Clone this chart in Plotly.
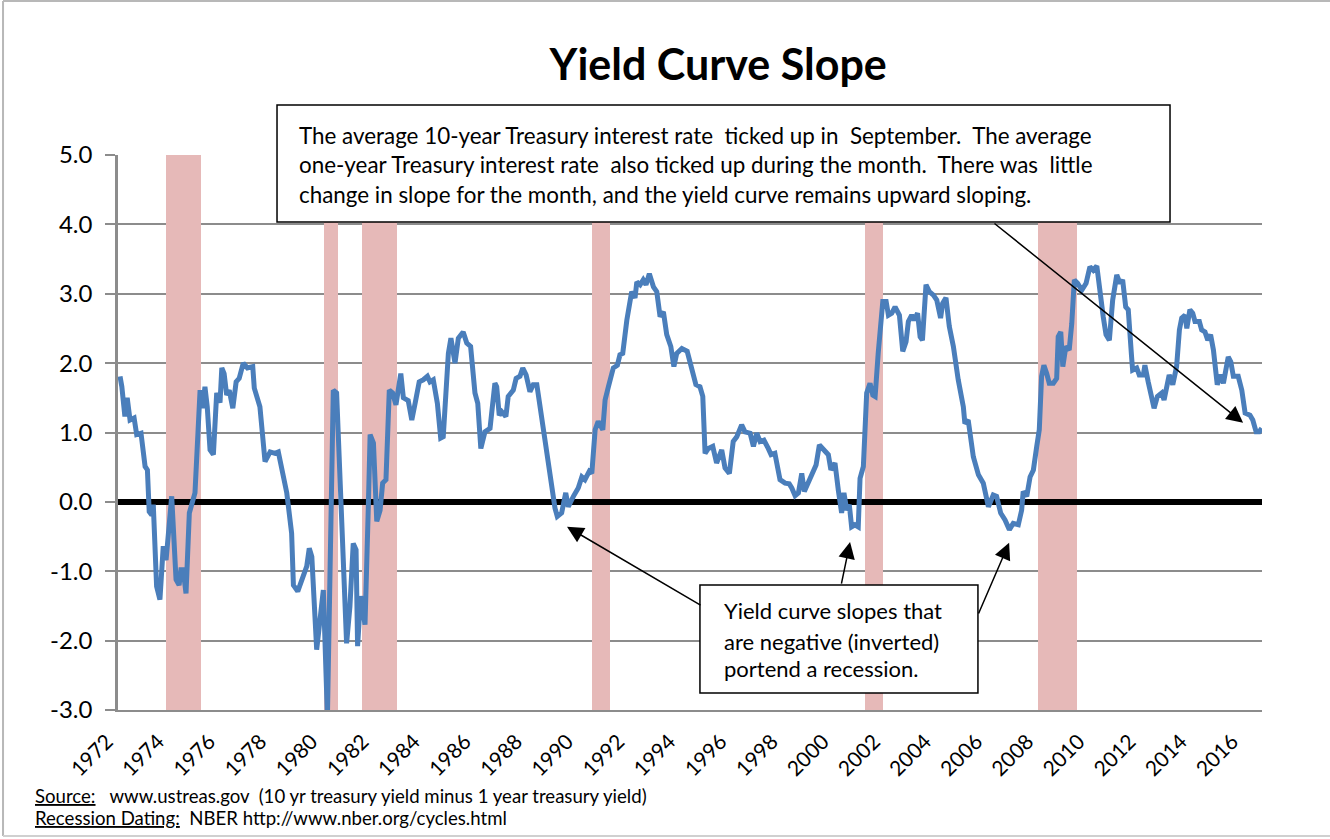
import plotly.graph_objects as go

# ---------------- data ----------------
slope_year = [
    1972.04, 1972.11, 1972.23, 1972.32, 1972.43, 1972.59, 1972.69, 1972.86, 1973.02, 1973.11,
    1973.18, 1973.28, 1973.34, 1973.47, 1973.60, 1973.73, 1973.84, 1973.93, 1974.06, 1974.23,
    1974.35, 1974.42, 1974.51, 1974.62, 1974.75, 1974.97, 1975.10, 1975.17, 1975.27, 1975.36,
    1975.45, 1975.56, 1975.69, 1975.82, 1975.95, 1976.02, 1976.11, 1976.21, 1976.31, 1976.45,
    1976.58, 1976.70, 1976.86, 1977.02, 1977.23, 1977.29, 1977.51, 1977.71, 1977.91, 1978.10,
    1978.23, 1978.36, 1978.56, 1978.75, 1978.82, 1978.99, 1979.15, 1979.23, 1979.34, 1979.44,
    1979.54, 1979.73, 1979.86, 1979.99, 1980.15, 1980.38, 1980.51, 1980.64, 1980.77, 1980.90,
    1981.03, 1981.16, 1981.27, 1981.33, 1981.45, 1981.62, 1981.75, 1981.82, 1981.95, 1982.08,
    1982.21, 1982.31, 1982.44, 1982.57, 1982.70, 1982.83, 1983.02, 1983.12, 1983.31, 1983.45,
    1983.58, 1983.74, 1983.90, 1984.06, 1984.16, 1984.29, 1984.45, 1984.58, 1984.68, 1984.88,
    1984.98, 1985.14, 1985.27, 1985.46, 1985.60, 1985.75, 1985.92, 1986.03, 1986.15, 1986.31,
    1986.51, 1986.70, 1986.77, 1986.87, 1986.97, 1987.13, 1987.22, 1987.42, 1987.53, 1987.68,
    1987.79, 1987.92, 1988.07, 1988.20, 1988.34, 1988.46, 1988.73, 1988.92, 1989.05, 1989.14,
    1989.31, 1989.47, 1989.57, 1989.77, 1989.96, 1990.10, 1990.22, 1990.39, 1990.49, 1990.62,
    1990.74, 1990.92, 1991.01, 1991.14, 1991.33, 1991.49, 1991.59, 1991.70, 1991.86, 1992.05,
    1992.18, 1992.25, 1992.38, 1992.50, 1992.61, 1992.74, 1992.90, 1993.03, 1993.16, 1993.29,
    1993.42, 1993.58, 1993.70, 1993.81, 1994.01, 1994.22, 1994.46, 1994.56, 1994.72, 1994.83,
    1994.92, 1995.05, 1995.22, 1995.37, 1995.57, 1995.70, 1995.87, 1996.02, 1996.16, 1996.35,
    1996.48, 1996.68, 1996.81, 1996.94, 1997.07, 1997.22, 1997.39, 1997.50, 1997.65, 1997.85,
    1998.05, 1998.21, 1998.31, 1998.44, 1998.57, 1998.70, 1998.80, 1998.96, 1999.13, 1999.26,
    1999.39, 1999.54, 1999.74, 1999.84, 2000.00, 2000.13, 2000.26, 2000.35, 2000.46, 2000.56,
    2000.65, 2000.78, 2000.91, 2000.98, 2001.11, 2001.24, 2001.37, 2001.48, 2001.57, 2001.69,
    2001.87, 2002.00, 2002.09, 2002.22, 2002.35, 2002.52, 2002.65, 2002.78, 2002.87, 2003.00,
    2003.10, 2003.23, 2003.33, 2003.42, 2003.56, 2003.69, 2003.85, 2003.98, 2004.13, 2004.21,
    2004.34, 2004.47, 2004.63, 2004.82, 2005.02, 2005.08, 2005.21, 2005.41, 2005.61, 2005.80,
    2006.00, 2006.19, 2006.32, 2006.48, 2006.65, 2006.82, 2006.97, 2007.17, 2007.30, 2007.36,
    2007.50, 2007.63, 2007.76, 2007.89, 2007.99, 2008.08, 2008.17, 2008.28, 2008.38, 2008.54,
    2008.67, 2008.73, 2008.83, 2008.91, 2009.03, 2009.16, 2009.26, 2009.36, 2009.49, 2009.65,
    2009.82, 2009.97, 2010.10, 2010.24, 2010.36, 2010.49, 2010.60, 2010.73, 2010.86, 2011.02,
    2011.15, 2011.25, 2011.37, 2011.47, 2011.60, 2011.64, 2011.80, 2011.90, 2012.06, 2012.12,
    2012.25, 2012.39, 2012.48, 2012.61, 2012.78, 2012.87, 2012.97, 2013.07, 2013.21, 2013.36,
    2013.47, 2013.56, 2013.69, 2013.76, 2013.88, 2013.99, 2014.08, 2014.25, 2014.34, 2014.47,
    2014.58, 2014.69, 2014.80, 2014.95, 2015.08, 2015.19, 2015.38, 2015.48, 2015.58, 2015.77,
    2015.91, 2016.04, 2016.23, 2016.34, 2016.47, 2016.59, 2016.69,
]
slope_value = [
    1.81, 1.66, 1.23, 1.50, 1.18, 1.21, 0.97, 0.99, 0.51, 0.46,
    -0.14, -0.19, -0.04, -1.22, -1.41, -0.64, -0.84, -0.50, 0.08, -1.12,
    -1.20, -0.98, -0.98, -1.32, -0.16, 0.13, 1.40, 1.61, 1.35, 1.66,
    1.37, 0.75, 0.68, 1.57, 1.43, 1.93, 1.85, 1.54, 1.61, 1.35,
    1.73, 1.78, 2.00, 1.93, 1.95, 1.64, 1.37, 0.58, 0.72, 0.70,
    0.72, 0.46, 0.13, -0.45, -1.20, -1.29, -1.12, -1.03, -0.93, -0.67,
    -0.79, -2.13, -1.65, -1.27, -3.10, 1.61, 1.57, 0.41, -0.79, -2.04,
    -1.51, -0.60, -0.69, -2.08, -1.36, -1.77, -0.07, 0.97, 0.85, -0.28,
    -0.12, 0.27, 0.32, 1.61, 1.57, 1.40, 1.85, 1.50, 1.46, 1.18,
    1.42, 1.73, 1.76, 1.81, 1.73, 1.76, 1.42, 0.92, 0.94, 2.14,
    2.36, 2.00, 2.36, 2.45, 2.29, 2.24, 1.57, 1.42, 0.77, 1.01,
    1.06, 1.71, 1.66, 1.25, 1.30, 1.23, 1.52, 1.61, 1.78, 1.81,
    1.93, 1.83, 1.59, 1.69, 1.69, 1.37, 0.70, 0.13, -0.09, -0.21,
    -0.16, 0.13, -0.07, 0.08, 0.20, 0.36, 0.32, 0.44, 0.41, 1.04,
    1.16, 1.04, 1.47, 1.66, 1.93, 1.97, 2.12, 2.14, 2.62, 3.03,
    2.94, 3.17, 3.13, 3.20, 3.13, 3.29, 3.10, 3.03, 2.67, 2.74,
    2.41, 2.24, 1.95, 2.14, 2.21, 2.17, 1.83, 1.69, 1.66, 1.52,
    0.70, 0.77, 0.80, 0.56, 0.75, 0.49, 0.41, 0.87, 0.94, 1.11,
    1.01, 0.99, 0.80, 0.99, 0.87, 0.89, 0.77, 0.68, 0.70, 0.32,
    0.27, 0.26, 0.20, 0.09, 0.13, 0.41, 0.15, 0.29, 0.46, 0.53,
    0.82, 0.75, 0.68, 0.46, 0.56, 0.17, -0.16, 0.13, -0.12, -0.04,
    -0.36, -0.33, -0.36, 0.34, 0.51, 1.57, 1.71, 1.54, 1.52, 2.14,
    2.89, 2.89, 2.69, 2.72, 2.81, 2.69, 2.17, 2.31, 2.60, 2.69,
    2.62, 2.72, 2.38, 2.33, 3.13, 3.03, 2.98, 2.91, 2.65, 2.86,
    2.94, 2.53, 2.24, 1.76, 1.37, 1.13, 1.18, 0.65, 0.39, 0.27,
    -0.07, 0.10, 0.08, -0.16, -0.26, -0.40, -0.31, -0.33, -0.12, 0.15,
    0.08, 0.36, 0.46, 0.80, 1.04, 1.81, 1.97, 1.85, 1.71, 1.71,
    1.78, 2.38, 2.45, 1.95, 2.24, 2.19, 2.57, 3.20, 3.15, 3.05,
    3.15, 3.39, 3.34, 3.40, 3.01, 2.67, 2.41, 2.33, 2.91, 3.27,
    3.15, 3.20, 2.81, 2.77, 2.09, 1.90, 1.93, 1.83, 1.83, 1.97,
    1.73, 1.47, 1.35, 1.52, 1.57, 1.47, 1.69, 1.83, 1.69, 1.95,
    2.48, 2.65, 2.69, 2.50, 2.77, 2.72, 2.60, 2.60, 2.48, 2.45,
    2.33, 2.41, 2.19, 1.69, 1.83, 1.71, 2.09, 2.02, 1.81, 1.81,
    1.61, 1.28, 1.25, 1.18, 1.01, 1.01, 1.06,
]

# NBER recessions (start, end as decimal years)
recession_start = [1973.83, 1980.00, 1981.50, 1990.50, 2001.17, 2007.92]
recession_end = [1975.20, 1980.55, 1982.88, 1991.20, 2001.87, 2009.45]

tick_years = list(range(1972, 2017, 2))
tick_labels = [str(y) for y in tick_years]

y_ticks = [-3, -2, -1, 0, 1, 2, 3, 4, 5]
y_tick_labels = ["%.1f" % v for v in y_ticks]

x_range = [1971.96, 2016.70]
y_range = [-3, 5]

FONT = "Lato"
LINE_BLUE = "#4A7EBB"
BAR_PINK = "#E6B9B8"
GRID = "#8C8C8C"

fig = go.Figure()

# recession bars
fig.add_trace(go.Bar(
    x=[(s + e) / 2 for s, e in zip(recession_start, recession_end)],
    y=[y_range[1] - y_range[0]] * len(recession_start),
    base=[y_range[0]] * len(recession_start),
    width=[e - s for s, e in zip(recession_start, recession_end)],
    marker=dict(color=BAR_PINK, line=dict(width=0)),
    hoverinfo="skip", showlegend=False,
))

# zero line
fig.add_trace(go.Scatter(
    x=x_range, y=[0, 0], mode="lines",
    line=dict(color="black", width=6), hoverinfo="skip", showlegend=False,
))

# yield curve slope
fig.add_trace(go.Scatter(
    x=slope_year, y=slope_value, mode="lines",
    line=dict(color=LINE_BLUE, width=5), showlegend=False,
))

shapes = [
    # text boxes
    dict(type="rect", xref="paper", yref="paper", x0=0.1390, x1=0.9196, y0=0.8793, y1=1.0901,
         line=dict(color="black", width=1.5), fillcolor="white", layer="above"),
    dict(type="rect", xref="paper", yref="paper", x0=0.5087, x1=0.7517, y0=0.0306, y1=0.2252,
         line=dict(color="black", width=1.5), fillcolor="white", layer="above"),
    # outer chart border
    dict(type="line", xref="paper", yref="paper", x0=-0.1005, x1=-0.1005, y0=-0.227, y1=1.2775,
         line=dict(color="#B8B8B8", width=2)),
    dict(type="line", xref="paper", yref="paper", x0=-0.1005, x1=1.06, y0=1.2775, y1=1.2775,
         line=dict(color="#B8B8B8", width=2)),
    dict(type="line", xref="paper", yref="paper", x0=-0.1005, x1=1.06, y0=-0.227, y1=-0.227,
         line=dict(color="#D0D0D0", width=2)),
]

annotations = []
top_lines = [
    "The average 10-year Treasury interest rate&nbsp; ticked up in&nbsp; September.&nbsp; The average",
    "one-year Treasury interest rate&nbsp; also ticked up during the month.&nbsp; There was&nbsp; little",
    "change in slope for the month, and the yield curve remains upward sloping.",
]
for txt, yp in zip(top_lines, [1.036, 0.982, 0.928]):
    annotations.append(dict(text=txt, xref="paper", yref="paper", x=0.1565, y=yp,
                            xanchor="left", yanchor="middle", showarrow=False,
                            font=dict(family=FONT, size=22.4, color="black")))
bot_lines = ["Yield curve slopes that", "are negative (inverted)", "portend a recession."]
for txt, yp in zip(bot_lines, [0.1784, 0.1243, 0.0739]):
    annotations.append(dict(text=txt, xref="paper", yref="paper", x=0.528, y=yp,
                            xanchor="left", yanchor="middle", showarrow=False,
                            font=dict(family=FONT, size=22, color="black")))

# arrows (head x,y ; tail ax,ay) in data coordinates
arrows = [
    (2015.96, 1.14, 2006.18, 4.03),
    (1989.52, -0.36, 1994.80, -1.50),
    (2000.59, -0.58, 2000.24, -1.20),
    (2006.81, -0.59, 2005.59, -1.63),
]
for x, y, ax, ay in arrows:
    annotations.append(dict(text="", x=x, y=y, ax=ax, ay=ay, xref="x", yref="y",
                            axref="x", ayref="y", showarrow=True, arrowhead=2,
                            arrowsize=2.2, arrowwidth=1.5, arrowcolor="black", standoff=0))

annotations.append(dict(
    text="<u>Source:</u>&nbsp;&nbsp; www.ustreas.gov&nbsp; (10 yr treasury yield minus 1 year treasury yield)",
    xref="paper", yref="paper", x=-0.0743, y=-0.155, xanchor="left", yanchor="middle",
    showarrow=False, font=dict(family=FONT, size=18.6, color="black")))
annotations.append(dict(
    text="<u>Recession Dating:</u>&nbsp; NBER http://www.nber.org/cycles.html",
    xref="paper", yref="paper", x=-0.0743, y=-0.1946, xanchor="left", yanchor="middle",
    showarrow=False, font=dict(family=FONT, size=18.6, color="black")))

fig.update_layout(
    width=1330, height=839,
    margin=dict(l=118, r=68, t=155, b=129),
    paper_bgcolor="white", plot_bgcolor="white",
    title=dict(text="<b>Yield Curve Slope</b>", x=0.54, xanchor="center",
               y=1 - 65 / 839, yanchor="middle", yref="container",
               font=dict(family=FONT, size=43, color="black")),
    showlegend=False,
    bargap=0,
    shapes=shapes,
    annotations=annotations,
    xaxis=dict(range=x_range, tickmode="array", tickvals=tick_years, ticktext=tick_labels,
               tickangle=-45, showgrid=False, zeroline=False, showline=True,
               linecolor=GRID, linewidth=2, ticks="",
               ticklabelstandoff=9, ticklabelshift=-12,
               tickfont=dict(family=FONT, size=21, color="black")),
    yaxis=dict(range=y_range, tickmode="array", tickvals=y_ticks, ticktext=y_tick_labels,
               showgrid=True, gridcolor=GRID, gridwidth=2, zeroline=False,
               showline=True, linecolor=GRID, linewidth=2.5,
               ticks="outside", ticklen=10, tickwidth=2, tickcolor=GRID,
               ticklabelstandoff=8,
               tickfont=dict(family=FONT, size=24, color="black")),
)

fig.write_html("out.html", config={"displayModeBar": False},
               post_script="document.body.style.margin='0px';")
